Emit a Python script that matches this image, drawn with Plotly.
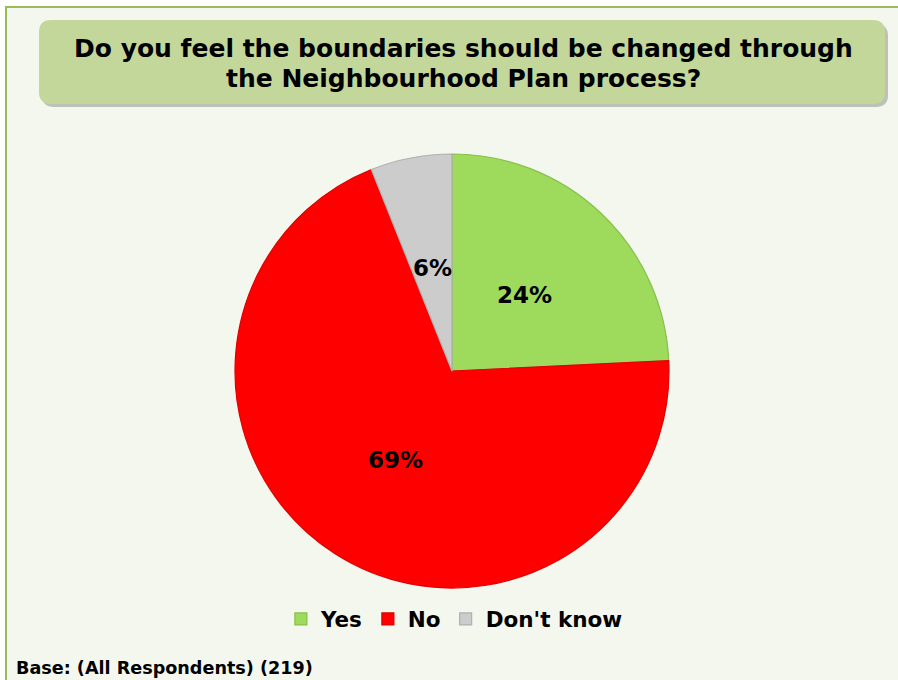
import math
import plotly.graph_objects as go

categories = ["Yes", "No", "Don't know"]
percentages = [24, 69, 6]
slice_colors = ["#9edb5c", "#ff0000", "#cccccc"]
slice_edges = ["#86c04a", "#e00000", "#b0b0b0"]
title_lines = ["Do you feel the boundaries should be changed through",
               "the Neighbourhood Plan process?"]
footer_text = "Base: (All Respondents) (219)"

W, H = 898, 680
FONT = "DejaVu Sans"

# pie geometry (pixels)
CX, CY, R = 452, 371, 217

fig = go.Figure()

fig.add_trace(go.Pie(
    labels=categories,
    values=percentages,
    textinfo="none",
    sort=False,
    direction="clockwise",
    rotation=0,
    marker=dict(colors=slice_colors, line=dict(color=slice_edges, width=1.2)),
    domain=dict(x=[(CX - R) / W, (CX + R) / W], y=[1 - (CY + R) / H, 1 - (CY - R) / H]),
    hoverinfo="label+percent",
))


def rounded(x0, y0, x1, y1, r):
    return (f"M {x0+r},{y0} L {x1-r},{y0} Q {x1},{y0} {x1},{y0+r} "
            f"L {x1},{y1-r} Q {x1},{y1} {x1-r},{y1} L {x0+r},{y1} "
            f"Q {x0},{y1} {x0},{y1-r} L {x0},{y0+r} Q {x0},{y0} {x0+r},{y0} Z")


shapes = [
    dict(type="rect", xref="x", yref="y", x0=6, y0=7, x1=W + 10, y1=H + 10,
         fillcolor="#f4f7ee", line=dict(color="#9bbb59", width=2), layer="below"),
    dict(type="path", xref="x", yref="y", path=rounded(42, 24, 888, 107, 12),
         fillcolor="rgba(90,90,90,0.35)", line=dict(width=0), layer="below"),
    dict(type="path", xref="x", yref="y", path=rounded(39, 20, 885, 104, 12),
         fillcolor="#c4d79b", line=dict(width=0), layer="below"),
]

annotations = [
    dict(x=463, y=48, xref="x", yref="y", text=title_lines[0], showarrow=False,
         font=dict(family=FONT, size=25, color="black", weight="bold"),
         xanchor="center", yanchor="middle"),
    dict(x=463, y=78, xref="x", yref="y", text=title_lines[1], showarrow=False,
         font=dict(family=FONT, size=25, color="black", weight="bold"),
         xanchor="center", yanchor="middle"),
    dict(x=14, y=668, xref="x", yref="y", text=footer_text, showarrow=False,
         font=dict(family=FONT, size=17.6, color="black", weight="bold"),
         xanchor="left", yanchor="middle"),
]

# data labels placed at the middle angle of each slice
total = sum(percentages)
cum = 0
for v in percentages:
    mid = (cum + v / 2) / total * 2 * math.pi
    cum += v
    d = 0.485 * R
    annotations.append(dict(
        x=CX + d * math.sin(mid), y=CY - d * math.cos(mid), xref="x", yref="y",
        text=f"{v}%", showarrow=False,
        font=dict(family=FONT, size=23, color="black", weight="bold"),
        xanchor="center", yanchor="middle"))

fig.update_layout(
    width=W, height=H,
    margin=dict(l=0, r=0, t=0, b=0),
    paper_bgcolor="white",
    plot_bgcolor="rgba(0,0,0,0)",
    xaxis=dict(range=[0, W], visible=False, domain=[0, 1], fixedrange=True),
    yaxis=dict(range=[H, 0], visible=False, domain=[0, 1], fixedrange=True),
    shapes=shapes,
    annotations=annotations,
    showlegend=True,
    legend=dict(orientation="h", x=0.506, xanchor="center", y=1 - 619 / H,
                yanchor="middle", bgcolor="rgba(0,0,0,0)",
                font=dict(family=FONT, size=21.5, color="black", weight="bold"),
                itemwidth=30, traceorder="normal"),
)

fig.write_html("out.html", config={"displayModeBar": False},
               post_script="document.body.style.margin='0';document.body.style.overflow='hidden';")
